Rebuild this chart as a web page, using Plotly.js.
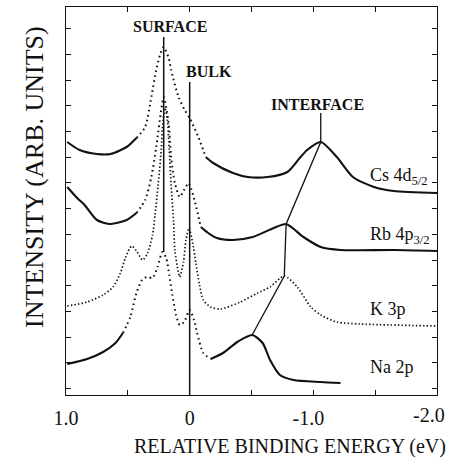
<!DOCTYPE html>
<html>
<head>
<meta charset="utf-8">
<script src="https://cdn.plot.ly/plotly-3.0.1.min.js"></script>
<style>html,body{margin:0;padding:0;background:#fff;}#chart{width:450px;height:469px;}</style>
</head>
<body>
<div id="chart"></div>
<script>
// Relative binding energy (eV) and intensity (arb. units)
const energyCs = [0.99, 0.89, 0.75, 0.64, 0.51, 0.43, 0.36, 0.31, 0.27, 0.24, 0.21, 0.17, 0.15, 0.09, 0.04, 0.00, -0.07, -0.13, -0.19, -0.35, -0.47, -0.63, -0.79, -0.89, -0.95, -1.06, -1.19, -1.32, -1.49, -1.65, -2.0];
const intensityCs = [253, 245, 241, 241, 248, 257, 268, 298, 325, 340, 348, 337, 325, 298, 285, 277, 258, 238, 232, 222, 218, 218, 223, 237, 245, 253, 238, 218, 208, 204, 202];
const dottedCs = [5, 17];

const energyRb = [0.99, 0.91, 0.85, 0.75, 0.64, 0.51, 0.43, 0.36, 0.31, 0.27, 0.23, 0.21, 0.17, 0.15, 0.12, 0.08, 0.045, 0.01, -0.01, -0.045, -0.09, -0.15, -0.22, -0.35, -0.51, -0.68, -0.78, -0.92, -1.06, -1.22, -1.65, -2.0];
const intensityRb = [208, 197, 190, 175, 171, 175, 182, 195, 218, 248, 285, 298, 272, 238, 212, 198, 205, 212, 207, 192, 168, 162, 157, 155, 158, 167, 171, 158, 148, 145, 145, 144];
const dottedRb = [6, 20];

const energyK = [0.99, 0.83, 0.70, 0.62, 0.56, 0.52, 0.47, 0.43, 0.38, 0.34, 0.30, 0.28, 0.255, 0.23, 0.215, 0.20, 0.18, 0.165, 0.15, 0.13, 0.12, 0.09, 0.08, 0.05, 0.03, 0.005, -0.03, -0.05, -0.08, -0.11, -0.17, -0.25, -0.41, -0.55, -0.65, -0.765, -0.87, -0.98, -1.06, -1.19, -1.38, -2.0];
const intensityK = [89, 93, 100, 108, 122, 137, 149, 144, 135, 142, 160, 180, 210, 245, 275, 287, 275, 245, 210, 173, 145, 122, 118, 133, 155, 167, 148, 132, 110, 95, 88, 86, 93, 102, 108, 119, 108, 88, 80, 73, 71, 69];

const energyNa = [0.99, 0.83, 0.70, 0.60, 0.54, 0.48, 0.43, 0.385, 0.345, 0.30, 0.26, 0.22, 0.19, 0.165, 0.14, 0.11, 0.08, 0.045, 0.0, -0.035, -0.06, -0.11, -0.17, -0.27, -0.385, -0.505, -0.59, -0.65, -0.73, -0.84, -1.06, -1.22];
const intensityNa = [31, 36, 43, 52, 62, 78, 102, 115, 118, 117, 128, 143, 137, 120, 100, 80, 70, 73, 85, 75, 62, 42, 36, 42, 53, 60, 52, 35, 20, 15, 13, 12];
const dottedNa = [4, 22];

const seriesLabels = ['Cs 4d<sub>5/2</sub>', 'Rb 4p<sub>3/2</sub>', 'K 3p', 'Na 2p'];
const peakLabels = ['SURFACE', 'BULK', 'INTERFACE'];
const xTickValues = [1.0, 0, -1.0];
const xTickLabels = ['1.0', '0', '-1.0\u2002'];
const xEdgeTick = {value: -2.0, label: '-2.0'};
const bulkEnergy = 0;

const FONT = 'Liberation Serif, Times New Roman, serif';
const INK = '#111';
const solid = {color: INK, width: 2.1, shape: 'spline', smoothing: 0.7};
const dotted = {color: INK, width: 2, dash: '1.6px,3.4px', shape: 'spline', smoothing: 0.7};
const dottedFine = {color: INK, width: 1.7, dash: '1.4px,2.2px', shape: 'spline', smoothing: 0.7};

const traces = [];
function addSegmented(E, I, br) {
  const parts = [[0, br[0]], [br[0], br[1]], [br[1], E.length - 1]];
  parts.forEach((p, k) => {
    traces.push({x: E.slice(p[0], p[1] + 1), y: I.slice(p[0], p[1] + 1), mode: 'lines',
      line: k === 1 ? dotted : solid, hoverinfo: 'skip'});
  });
}
addSegmented(energyCs, intensityCs, dottedCs);
addSegmented(energyRb, intensityRb, dottedRb);
traces.push({x: energyK, y: intensityK, mode: 'lines', line: dottedFine, hoverinfo: 'skip'});
addSegmented(energyNa, intensityNa, dottedNa);

function argmaxWhere(E, I, test) {
  let best = -1;
  for (let i = 0; i < E.length; i++) if (test(E[i]) && (best < 0 || I[i] > I[best])) best = i;
  return best;
}
// surface line: from label down to Na surface peak, at the Cs surface peak energy
const csTop = argmaxWhere(energyCs, intensityCs, e => true);
const naSurf = argmaxWhere(energyNa, intensityNa, e => e > 0.15 && e < 0.3);
traces.push({x: [energyCs[csTop], energyCs[csTop]], y: [358, intensityNa[naSurf]], mode: 'lines',
  line: {color: INK, width: 1.5}, hoverinfo: 'skip'});
// bulk line
traces.push({x: [bulkEnergy, bulkEnergy], y: [313, 0], mode: 'lines', line: {color: INK, width: 1.5}, hoverinfo: 'skip'});
// interface leader through the interface peaks
const ifc = [[energyCs, intensityCs], [energyRb, intensityRb], [energyK, intensityK], [energyNa, intensityNa]]
  .map(([E, I]) => { const j = argmaxWhere(E, I, e => e < -0.3); return [E[j], I[j]]; });
traces.push({x: [ifc[0][0]].concat(ifc.map(p => p[0])), y: [282].concat(ifc.map(p => p[1])), mode: 'lines',
  line: {color: INK, width: 1.3}, hoverinfo: 'skip'});

const ann = [];
const lab = (text, x, y, opts) => ann.push(Object.assign({text, x, y, xref: 'x', yref: 'y', showarrow: false,
  xanchor: 'center', yanchor: 'middle', font: {family: FONT, size: 16, color: INK}}, opts || {}));
lab('<b>' + peakLabels[0] + '</b>', 0.158, 369);
lab('<b>' + peakLabels[1] + '</b>', -0.158, 324);
lab('<b>' + peakLabels[2] + '</b>', -1.032, 291);
const labelY = [219, 160, 86, 28];
seriesLabels.forEach((t, i) => lab(t, -1.445, labelY[i], {xanchor: 'left', font: {family: FONT, size: 18, color: INK}}));
// edge tick label (kept inside the picture)
ann.push({text: xEdgeTick.label, x: xEdgeTick.value, xref: 'x', yref: 'paper', y: -0.052, xanchor: 'right', xshift: 10,
  yanchor: 'middle', showarrow: false, font: {family: FONT, size: 20, color: INK}});
ann.push({text: 'RELATIVE BINDING ENERGY (eV)', xref: 'paper', yref: 'paper', x: 0.604, y: -0.133,
  xanchor: 'center', yanchor: 'middle', showarrow: false, font: {family: FONT, size: 20, color: INK}});
ann.push({text: 'INTENSITY (ARB. UNITS)', xref: 'paper', yref: 'paper', x: -0.0836, y: 0.562, textangle: -90,
  xanchor: 'center', yanchor: 'middle', showarrow: false, font: {family: FONT, size: 26, color: INK}});

const layout = {
  width: 450, height: 469,
  margin: {l: 66, r: 13, t: 7, b: 74},
  paper_bgcolor: '#fff', plot_bgcolor: '#fff',
  showlegend: false,
  xaxis: {range: [1.0, -2.0], tickvals: xTickValues, ticktext: xTickLabels, ticks: 'inside', ticklen: 5,
    tickcolor: INK, showline: true, linecolor: INK, linewidth: 1.4, mirror: 'ticks', showgrid: false, zeroline: false,
    ticklabelstandoff: 5, tickfont: {family: FONT, size: 20, color: INK},
    minor: {tick0: 0, dtick: 0.5, ticks: 'inside', ticklen: 5, tickcolor: INK, showgrid: false}},
  yaxis: {range: [0, 388], tick0: 6.5, dtick: 25.7, ticks: 'inside', ticklen: 5, tickcolor: INK,
    showticklabels: false, showline: true, linecolor: INK, linewidth: 1.2, mirror: 'ticks', showgrid: false, zeroline: false},
  annotations: ann
};
Plotly.newPlot('chart', traces, layout, {staticPlot: true, displayModeBar: false});
</script>
</body>
</html>
